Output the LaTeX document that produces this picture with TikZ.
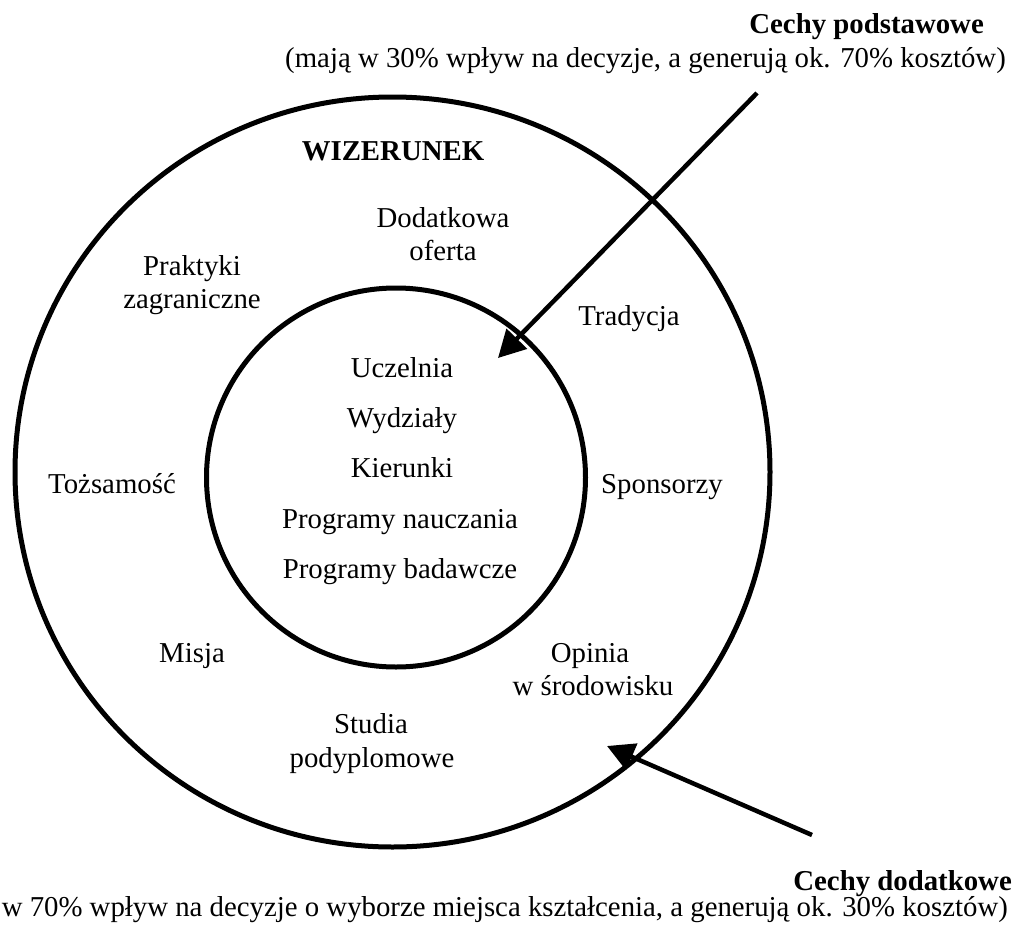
\documentclass[tikz,border=0pt]{standalone}
\usepackage{fontspec}
\setmainfont{Liberation Serif}
\usetikzlibrary{arrows.meta}
\tikzset{
  lbl/.style={inner sep=0pt, anchor=base, font=\fontsize{28.8}{33}\selectfont},
  bold/.style={lbl, font=\fontsize{28.8}{33}\selectfont\bfseries},
  ring/.style={line width=5pt, draw=black},
  arr/.style={line width=4.5pt, draw=black, -{Triangle[length=27pt,width=28pt]}}
}
\begin{document}
\begin{tikzpicture}[x=1pt,y=-1pt]
\useasboundingbox (0,0) rectangle (1015,926);
% circles
\draw[ring] (392.5,472) ellipse [x radius=377.5, y radius=375];
\draw[ring] (396,477.5) circle [radius=189.5];
% top captions
\node[bold, anchor=base east] (cpt) at (984,34) {Cechy podstawowe};
\node[lbl, anchor=base east] (cpd) at (1006,67) {(mają w 30\% wpływ na decyzje, a generują ok. 70\% kosztów)};
% bottom captions
\node[bold, anchor=base east] (cdt) at (1012,890) {Cechy dodatkowe};
\node[lbl, anchor=base east] (cdd) at (1008,916) {w 70\% wpływ na decyzje o wyborze miejsca kształcenia, a generują ok. 30\% kosztów)};
% outer ring labels
\node[bold] (wiz) at (393,160) {WIZERUNEK};
\node[lbl] (dod1) at (443,227) {Dodatkowa};
\node[lbl] (dod2) at (443,260) {oferta};
\node[lbl] (pra1) at (192,275) {Praktyki};
\node[lbl] (pra2) at (192,308) {zagraniczne};
\node[lbl] (tra) at (629,325) {Tradycja};
\node[lbl] (toz) at (112,493) {Tożsamość};
\node[lbl] (spo) at (662,493) {Sponsorzy};
\node[lbl] (mis) at (192,662) {Misja};
\node[lbl] (opi1) at (590,662) {Opinia};
\node[lbl] (opi2) at (593,695) {w środowisku};
\node[lbl] (stu1) at (371,733) {Studia};
\node[lbl] (stu2) at (372,767) {podyplomowe};
% inner labels
\node[lbl] (ucz) at (402,377) {Uczelnia};
\node[lbl] (wyd) at (402,427) {Wydziały};
\node[lbl] (kie) at (402,477) {Kierunki};
\node[lbl] (prn) at (400,528) {Programy nauczania};
\node[lbl] (prb) at (400,578) {Programy badawcze};
% arrows
\coordinate (a1s) at (757,93);
\coordinate (a1e) at (498,358);
\coordinate (a2s) at (812,835);
\coordinate (a2e) at (607,746);
\draw[arr] (a1s) -- (a1e);
\draw[arr] (a2s) -- (a2e);
\end{tikzpicture}
\end{document}
